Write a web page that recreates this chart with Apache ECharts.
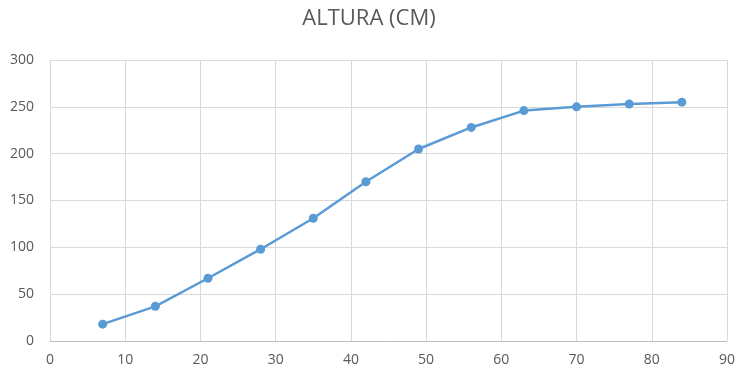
<!DOCTYPE html>
<html><head><meta charset="utf-8">
<script src="https://cdn.jsdelivr.net/npm/echarts@6/dist/echarts.min.js"></script>
<style>html,body{margin:0;padding:0;background:#fff}#c{width:738px;height:373px}</style>
</head><body><div id="c"></div>
<script>
const days = [7, 14, 21, 28, 35, 42, 49, 56, 63, 70, 77, 84];
const heights = [18, 37, 67, 98, 131, 170, 205, 228, 246, 250, 253, 255];
const titleText = 'ALTURA (CM)';

const chart = echarts.init(document.getElementById('c'), null, {renderer: 'canvas'});
chart.setOption({
  animation: false,
  backgroundColor: '#ffffff',
  title: {
    text: titleText, left: 'center', top: 3,
    textStyle: {fontFamily: 'Open Sans', fontSize: 22, fontWeight: 'normal', color: '#595959'}
  },
  grid: {left: 50, right: 10, top: 60, bottom: 32},
  xAxis: {
    type: 'value', min: 0, max: 90, interval: 10,
    axisLine: {show: true, lineStyle: {color: '#bfbfbf'}},
    axisTick: {show: false},
    splitLine: {show: true, lineStyle: {color: '#d9d9d9'}},
    axisLabel: {color: '#595959', fontFamily: 'Open Sans', fontSize: 14, margin: 12}
  },
  yAxis: {
    type: 'value', min: 0, max: 300, interval: 50,
    axisLine: {show: false},
    axisTick: {show: false},
    splitLine: {show: true, lineStyle: {color: '#d9d9d9'}},
    axisLabel: {color: '#595959', fontFamily: 'Open Sans', fontSize: 14, margin: 16}
  },
  series: [{
    type: 'line',
    data: days.map((d, i) => [d, heights[i]]),
    symbol: 'circle', symbolSize: 9,
    lineStyle: {color: '#5b9bd5', width: 2.5},
    itemStyle: {color: '#5b9bd5'}
  }]
});
</script></body></html>
